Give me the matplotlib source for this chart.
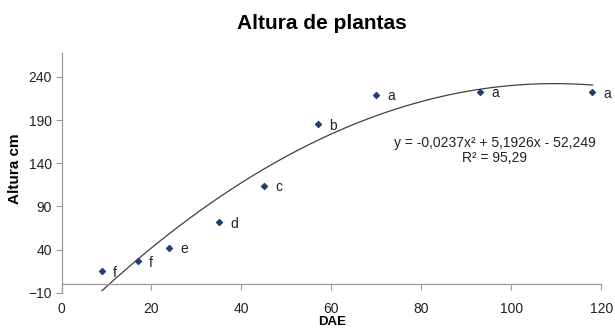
import matplotlib.pyplot as plt
import numpy as np

plt.rcParams['font.family'] = ['Liberation Sans', 'DejaVu Sans']

# data
dae = [9, 17, 24, 35, 45, 57, 70, 93, 118]
altura = [15, 26.5, 42, 71.5, 114, 185, 219, 223, 222]
letras = ['f', 'f', 'e', 'd', 'c', 'b', 'a', 'a', 'a']
coef = [-0.0237, 5.1926, -52.249]
xticks = [0, 20, 40, 60, 80, 100, 120]
yticks = [-10, 40, 90, 140, 190, 240]

fig = plt.figure(figsize=(6.15, 3.31), dpi=100)
ax = fig.add_axes([0.1, 0.115, 0.878, 0.726])

# trend line
xs = np.linspace(min(dae), max(dae), 200)
ax.plot(xs, np.polyval(coef, xs), color='#404040', lw=0.9)

ax.scatter(dae, altura, marker='D', s=9, color='#1f3f77', zorder=3)
for x, y, l in zip(dae, altura, letras):
    ax.annotate(l, (x, y), xytext=(8, -1), textcoords='offset points',
                ha='left', va='center', fontsize=10, color='#222222')

ax.text(96.3, 155, 'y = -0,0237x² + 5,1926x - 52,249\nR² = 95,29',
        ha='center', va='center', fontsize=10, color='#222222',
        linespacing=1.1)

ax.set_xlim(0, 120)
ax.set_ylim(-10, 268)
ax.set_xticks(xticks)
ax.set_yticks(yticks)

for s in ['top', 'right']:
    ax.spines[s].set_visible(False)
ax.spines['bottom'].set_position(('data', 0))
for s in ['left', 'bottom']:
    ax.spines[s].set_color('#9a9a9a')
    ax.spines[s].set_linewidth(0.9)

ax.tick_params(axis='both', colors='#9a9a9a', labelcolor='#222222',
               labelsize=10, length=4, width=0.8)
ax.tick_params(axis='x', pad=9)
ax.tick_params(axis='y', pad=3)

fig.text(0.524, 0.93, 'Altura de plantas', ha='center', va='center',
         fontsize=15, fontweight='bold')
fig.text(0.54, 0.027, 'DAE', ha='center', va='center',
         fontsize=9.5, fontweight='bold')
fig.text(0.025, 0.49, 'Altura cm', ha='center', va='center', rotation=90,
         fontsize=11, fontweight='bold')

fig.savefig('out.png', dpi=100)
